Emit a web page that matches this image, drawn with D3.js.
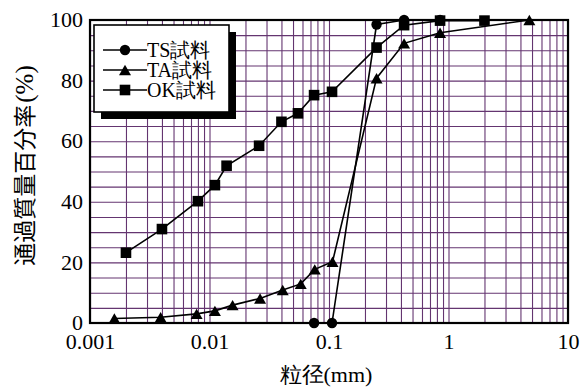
<!DOCTYPE html>
<html>
<head>
<meta charset="utf-8">
<script src="https://cdn.jsdelivr.net/npm/d3@7"></script>
<style>
  html, body { margin: 0; padding: 0; background: #fff; }
  svg { display: block; }
</style>
</head>
<body>
<svg id="chart" width="580" height="389"></svg>
<script>
// Particle size (mm) and percent passing for each sample
const tsSize = [0.075, 0.106, 0.25, 0.425, 0.85];
const tsPass = [0, 0, 98.5, 100, 100];

const taSize = [0.0016, 0.0039, 0.0078, 0.0111, 0.0156, 0.0265, 0.041, 0.058, 0.076, 0.107, 0.25, 0.425, 0.85, 4.75];
const taPass = [1.5, 1.9, 3.0, 4.0, 5.9, 8.1, 10.9, 12.9, 17.7, 20.2, 80.8, 92.3, 95.8, 100];

const okSize = [0.002, 0.004, 0.008, 0.0111, 0.0139, 0.026, 0.040, 0.055, 0.075, 0.106, 0.25, 0.425, 0.85, 2.0];
const okPass = [23.2, 31.0, 40.2, 45.5, 51.9, 58.5, 66.4, 69.2, 75.2, 76.3, 90.9, 98.3, 99.8, 99.8];

const seriesNames = ["TS試料", "TA試料", "OK試料"];
const seriesShapes = ["circle", "triangle", "square"];

const xTicks = [0.001, 0.01, 0.1, 1, 10];
const xTickLabels = ["0.001", "0.01", "0.1", "1", "10"];
const yTicks = [0, 20, 40, 60, 80, 100];

const xTitle = "粒径(mm)";
const yTitle = "通過質量百分率";
const yTitleUnit = "(%)";

const SERIF = '"Liberation Serif"';
const GOTHIC = '"Noto Sans CJK JP"';

const W = 580, H = 389;
const margin = { left: 90, right: 12, top: 20, bottom: 66 };
const iw = W - margin.left - margin.right;
const ih = H - margin.top - margin.bottom;

const svg = d3.select("#chart");
const g = svg.append("g").attr("transform", `translate(${margin.left},${margin.top})`);

const x = d3.scaleLog().domain([0.001, 10]).range([0, iw]);
const y = d3.scaleLinear().domain([0, 100]).range([ih, 0]);

// log grid: 1..9 within every decade
const xGrid = [];
for (let e = -3; e <= 0; e++) for (let k = 1; k <= 9; k++) xGrid.push(k * Math.pow(10, e));
xGrid.push(10);
const yGrid = d3.range(0, 101, 5);

const gridColor = "#643570";

g.append("g")
  .attr("transform", `translate(0,${ih})`)
  .call(d3.axisBottom(x).tickValues(xGrid).tickSize(-ih).tickFormat(""))
  .call(s => s.select(".domain").remove())
  .call(s => s.selectAll("line").attr("stroke", gridColor).attr("stroke-width", 1.1));

g.append("g")
  .call(d3.axisLeft(y).tickValues(yGrid).tickSize(-iw).tickFormat(""))
  .call(s => s.select(".domain").remove())
  .call(s => s.selectAll("line").attr("stroke", gridColor).attr("stroke-width", 1.1));

// frame
g.append("rect")
  .attr("x", 0).attr("y", 0).attr("width", iw).attr("height", ih)
  .attr("fill", "none").attr("stroke", "#000").attr("stroke-width", 2.2);

// tick labels
g.append("g")
  .attr("transform", `translate(0,${ih})`)
  .call(d3.axisBottom(x).tickValues(xTicks).tickSize(0).tickPadding(10)
        .tickFormat((d, i) => xTickLabels[i]))
  .call(s => s.select(".domain").remove())
  .call(s => s.selectAll("text").attr("fill", "#000")
        .style("font-family", SERIF).style("font-size", "22px"));

g.append("g")
  .call(d3.axisLeft(y).tickValues(yTicks).tickSize(0).tickPadding(7))
  .call(s => s.select(".domain").remove())
  .call(s => s.selectAll("text").attr("fill", "#000").attr("dy", "0.3em")
        .style("font-family", SERIF).style("font-size", "22px"));

// markers
function marker(sel, shape) {
  if (shape === "circle") {
    sel.append("circle").attr("r", 5.2).attr("fill", "#000");
  } else if (shape === "square") {
    sel.append("rect").attr("x", -5.3).attr("y", -5.3).attr("width", 10.6).attr("height", 10.6).attr("fill", "#000");
  } else {
    sel.append("path").attr("d", "M0,-5.2L6,5.2L-6,5.2Z").attr("fill", "#000");
  }
}

const series = [
  { size: tsSize, pass: tsPass },
  { size: taSize, pass: taPass },
  { size: okSize, pass: okPass }
];

const line = d3.line().x(d => x(d[0])).y(d => y(d[1]));

series.forEach((s, i) => {
  const pts = s.size.map((v, j) => [v, s.pass[j]]);
  g.append("path")
    .attr("d", line(pts))
    .attr("fill", "none").attr("stroke", "#000").attr("stroke-width", 1.6);
  g.append("g").selectAll("g").data(pts).join("g")
    .attr("transform", d => `translate(${x(d[0])},${y(d[1])})`)
    .each(function () { marker(d3.select(this), seriesShapes[i]); });
});

// legend
const lg = svg.append("g").attr("transform", "translate(94,25)");
const lw = 135, lh = 87;
lg.append("rect").attr("x", 7).attr("y", 7).attr("width", lw).attr("height", lh).attr("fill", "#000");
lg.append("rect").attr("x", 0).attr("y", 0).attr("width", lw).attr("height", lh)
  .attr("fill", "#fff").attr("stroke", "#000").attr("stroke-width", 1.6);
seriesNames.forEach((name, i) => {
  const cy = 25 + i * 20;
  const it = lg.append("g").attr("transform", `translate(0,${cy})`);
  it.append("line").attr("x1", 9).attr("x2", 53).attr("y1", 0).attr("y2", 0)
    .attr("stroke", "#000").attr("stroke-width", 1.6);
  const m = it.append("g").attr("transform", "translate(31,0)");
  marker(m, seriesShapes[i]);
  it.append("text").attr("x", 53).attr("y", 7)
    .style("font-family", SERIF).style("font-size", "20px").text(name);
});

// axis titles
svg.append("text")
  .attr("x", margin.left + iw / 2 - 3).attr("y", 382)
  .attr("text-anchor", "middle")
  .style("font-family", SERIF).style("font-size", "22px")
  .text(xTitle);

const yt = svg.append("text")
  .attr("transform", `translate(33,${margin.top + ih / 2 - 6}) rotate(-90)`)
  .attr("text-anchor", "middle");
yt.append("tspan").style("font-family", GOTHIC).style("font-size", "23px").text(yTitle);
yt.append("tspan").style("font-family", SERIF).style("font-size", "25px").attr("dx", 2).text(yTitleUnit);
</script>
</body>
</html>
